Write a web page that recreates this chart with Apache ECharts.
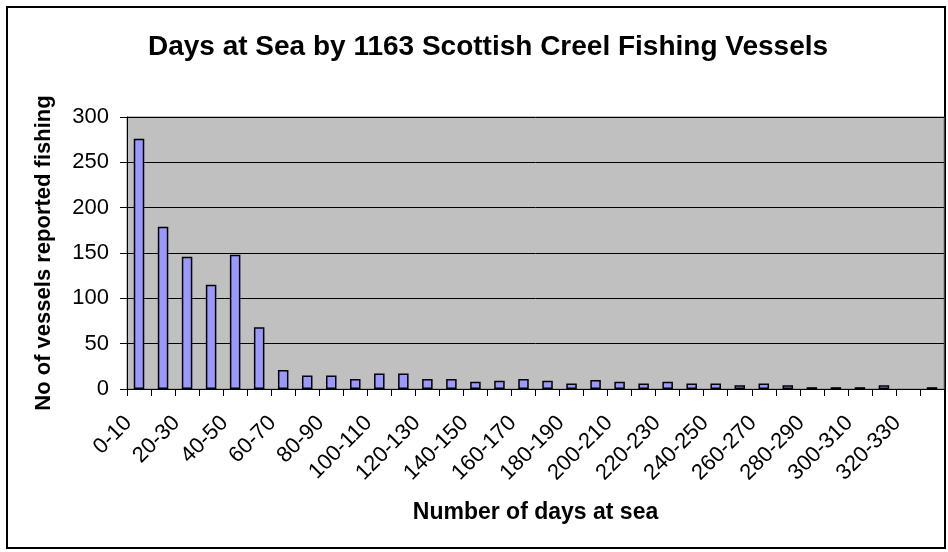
<!DOCTYPE html>
<html>
<head>
<meta charset="utf-8">
<script src="https://cdn.jsdelivr.net/npm/echarts@6/dist/echarts.min.js"></script>
<style>
html,body{margin:0;padding:0;background:#fff;}
#chart{width:948px;height:552px;}
</style>
</head>
<body>
<div id="chart"></div>
<script>
var categories = ["0-10","10-20","20-30","30-40","40-50","50-60","60-70","70-80","80-90","90-100",
  "100-110","110-120","120-130","130-140","140-150","150-160","160-170","170-180","180-190","190-200",
  "200-210","210-220","220-230","230-240","240-250","250-260","260-270","270-280","280-290","290-300",
  "300-310","310-320","320-330","330-340"];
var vessels = [276,179,146,115,148,68,21,15,15,11,
  17,17,11,11,8,9,11,9,6,10,
  8,6,8,6,6,4,6,4,2,2,
  2,4,0,2];
var yTicks = {min:0, max:300, interval:50};
var titleText = "Days at Sea by 1163 Scottish Creel Fishing Vessels";
var xName = "Number of days at sea";
var yName = "No of vessels reported fishing";

var FONT = '"Liberation Sans", Arial, sans-serif';
var barData = vessels.map(function(v){ return v === 0 ? '-' : v; });
var chart = echarts.init(document.getElementById('chart'), null, {renderer:'canvas'});
chart.setOption({
  animation:false,
  backgroundColor:'#ffffff',
  graphic:[
    {type:'rect', z:-10, shape:{x:7, y:7, width:938, height:541}, style:{fill:'none', stroke:'#000', lineWidth:2}},
    {type:'text', x:488, y:47, style:{text:titleText, font:'bold 28px ' + FONT, fill:'#000', align:'center', verticalAlign:'middle'}}
  ],
  grid:{left:127, right:4, top:117, bottom:163, show:true, backgroundColor:'#C0C0C0', borderColor:'#808080', borderWidth:1},
  xAxis:{
    type:'category', data:categories, boundaryGap:true,
    name:xName, nameLocation:'middle', nameGap:112,
    nameTextStyle:{fontFamily:FONT, fontWeight:'bold', fontSize:23, color:'#000'},
    axisLine:{show:true, lineStyle:{color:'#000', width:1}},
    axisTick:{show:true, interval:0, length:7, inside:false, lineStyle:{color:'#000'}},
    axisLabel:{interval:1, rotate:45, fontFamily:FONT, fontSize:22, color:'#000', margin:20, padding:[0,15,0,0]},
    splitLine:{show:false}
  },
  yAxis:{
    type:'value', min:yTicks.min, max:yTicks.max, interval:yTicks.interval,
    name:yName, nameLocation:'middle', nameGap:72, nameRotate:90,
    nameTextStyle:{fontFamily:FONT, fontWeight:'bold', fontSize:22, color:'#000'},
    axisLine:{show:true, lineStyle:{color:'#000', width:1}},
    axisTick:{show:true, length:7, inside:false, lineStyle:{color:'#000'}},
    axisLabel:{fontFamily:FONT, fontSize:22, color:'#000', margin:18},
    splitLine:{show:true, lineStyle:{color:'#000', width:1}}
  },
  series:[{
    type:'bar', data:barData, barWidth:10.5,
    itemStyle:{color:'#9999FF', borderColor:'#000', borderWidth:1.5}
  }]
});
</script>
</body>
</html>
